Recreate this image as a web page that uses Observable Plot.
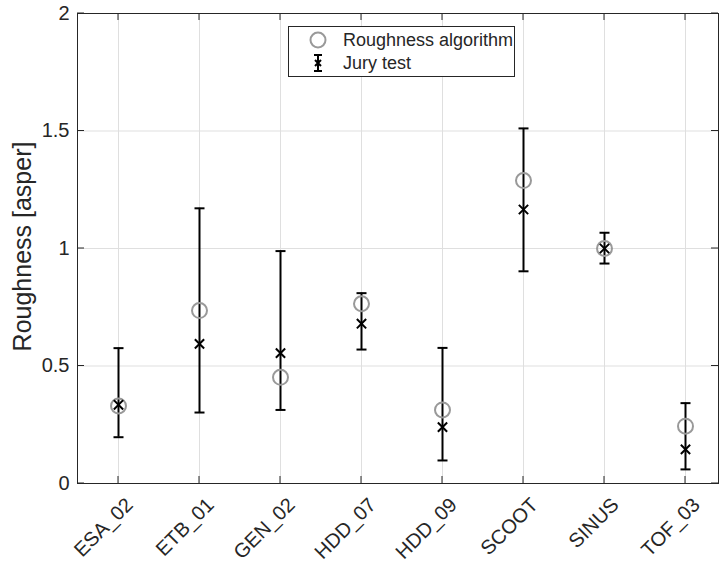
<!DOCTYPE html>
<html>
<head>
<meta charset="utf-8">
<script src="https://cdn.jsdelivr.net/npm/d3@7"></script>
<script src="https://cdn.jsdelivr.net/npm/@observablehq/plot@0.6"></script>
<style>
  html, body { margin: 0; padding: 0; background: white; }
  #chart { width: 719px; height: 567px; }
</style>
</head>
<body>
<div id="chart"></div>
<script>
const categories = ["ESA_02", "ETB_01", "GEN_02", "HDD_07", "HDD_09", "SCOOT", "SINUS", "TOF_03"];
const algorithm = [0.330, 0.736, 0.452, 0.765, 0.313, 1.289, 1.000, 0.244];
const jury      = [0.335, 0.594, 0.555, 0.680, 0.240, 1.166, 1.000, 0.145];
const juryLow   = [0.197, 0.302, 0.313, 0.570, 0.098, 0.903, 0.936, 0.060];
const juryHigh  = [0.576, 1.171, 0.989, 0.810, 0.577, 1.511, 1.067, 0.342];
const yTicks = [0, 0.5, 1, 1.5, 2];
const yLabel = "Roughness [asper]";
const legendLabels = ["Roughness algorithm", "Jury test"];

(function () {
const rows = categories.map((c, i) => ({
  cat: c, alg: algorithm[i], jury: jury[i], low: juryLow[i], high: juryHigh[i]
}));

const FONT = "'Liberation Sans', Arial, Helvetica, sans-serif";
const INK = "#262626";
const GRID = "#dfdfdf";
const CIRCLE = "#999999";

const capSymbol = {
  draw(context, size) {
    const w = Math.sqrt(size / Math.PI);
    context.moveTo(-w, 0);
    context.lineTo(w, 0);
  }
};

const W = 719, H = 567;
const mL = 77, mT = 13, mR = 1, mB = 84;

const chart = Plot.plot({
  width: W,
  height: H,
  marginLeft: mL,
  marginTop: mT,
  marginRight: mR,
  marginBottom: mB,
  style: { fontFamily: FONT, fontSize: "20px", color: INK, background: "white" },
  x: { type: "point", domain: categories, range: [118, 685.5], padding: 0, axis: null },
  y: { domain: [0, 2], axis: null },
  marks: [
    Plot.gridX(categories, { stroke: GRID, strokeOpacity: 1, strokeWidth: 1 }),
    Plot.gridY(yTicks, { stroke: GRID, strokeOpacity: 1, strokeWidth: 1 }),
    Plot.frame({ stroke: INK, strokeWidth: 1 }),
    Plot.axisY(yTicks, {
      anchor: "left", tickSize: 0, tickPadding: 8, fontSize: 20, fill: INK,
      tickFormat: d => String(d), label: null
    }),
    Plot.text(categories, {
      x: d => d, y: () => 0, rotate: -45, textAnchor: "end", lineAnchor: "middle",
      dx: 11, dy: 18, fontSize: 20, fill: INK
    }),
    Plot.text([yLabel], {
      frameAnchor: "left", rotate: -90, dx: -55, dy: -2, fontSize: 25, fill: INK,
      textAnchor: "middle", lineAnchor: "middle"
    }),
    Plot.ruleX(rows, { x: "cat", y1: "low", y2: "high", stroke: "black", strokeWidth: 2 }),
    Plot.dot(rows, { x: "cat", y: "low", symbol: capSymbol, r: 5, stroke: "black", fill: "none", strokeWidth: 2 }),
    Plot.dot(rows, { x: "cat", y: "high", symbol: capSymbol, r: 5, stroke: "black", fill: "none", strokeWidth: 2 }),
    Plot.dot(rows, { x: "cat", y: "alg", r: 7.5, stroke: CIRCLE, fill: "none", strokeWidth: 2 }),
    Plot.dot(rows, { x: "cat", y: "jury", symbol: "times", r: 4.3, stroke: "black", strokeWidth: 2 })
  ]
});

document.getElementById("chart").appendChild(chart);

// inward ticks (MATLAB style), positioned through Plot's scales
const xs = chart.scale("x");
const ys = chart.scale("y");
const svg = d3.select(chart);
const g = svg.append("g").attr("stroke", INK).attr("stroke-width", 1);
const pLeft = mL, pRight = W - mR, pTop = mT, pBottom = H - mB;
categories.forEach(c => {
  const x = xs.apply(c);
  g.append("line").attr("x1", x).attr("x2", x).attr("y1", pBottom).attr("y2", pBottom - 7);
  g.append("line").attr("x1", x).attr("x2", x).attr("y1", pTop).attr("y2", pTop + 7);
});
yTicks.forEach(v => {
  const y = ys.apply(v);
  g.append("line").attr("x1", pLeft).attr("x2", pLeft + 7).attr("y1", y).attr("y2", y);
  g.append("line").attr("x1", pRight).attr("x2", pRight - 7).attr("y1", y).attr("y2", y);
});

// legend box
const lg = svg.append("g").attr("font-family", FONT).attr("font-size", 18).attr("fill", INK)
  .attr("text-anchor", "start");
lg.append("rect").attr("x", 288.5).attr("y", 26.5).attr("width", 226).attr("height", 50)
  .attr("fill", "white").attr("stroke", INK).attr("stroke-width", 1);
lg.append("circle").attr("cx", 318).attr("cy", 40).attr("r", 7.5)
  .attr("fill", "none").attr("stroke", CIRCLE).attr("stroke-width", 2);
const eb = lg.append("g").attr("stroke", "black").attr("stroke-width", 2);
eb.append("line").attr("x1", 318).attr("x2", 318).attr("y1", 55).attr("y2", 71);
eb.append("line").attr("x1", 314).attr("x2", 322).attr("y1", 55).attr("y2", 55);
eb.append("line").attr("x1", 314).attr("x2", 322).attr("y1", 71).attr("y2", 71);
eb.append("path").attr("d", "M315,60L321,66M315,66L321,60").attr("fill", "none");
lg.append("text").attr("x", 343).attr("y", 40).attr("dy", "0.35em").text(legendLabels[0]);
lg.append("text").attr("x", 343).attr("y", 63).attr("dy", "0.35em").text(legendLabels[1]);
})();
</script>
</body>
</html>
